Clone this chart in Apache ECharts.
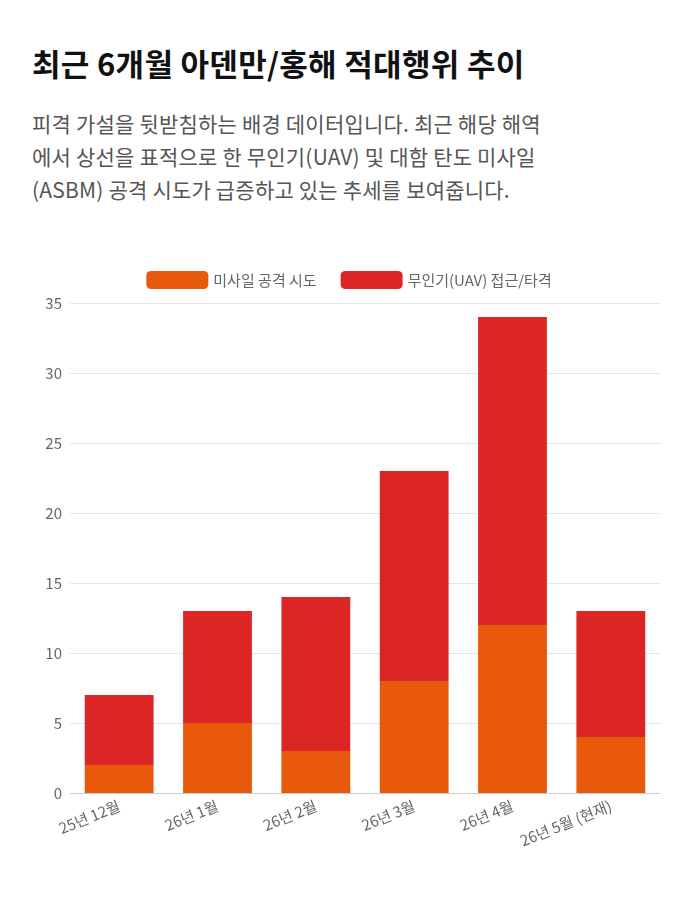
<!DOCTYPE html>
<html><head><meta charset="utf-8">
<script src="https://cdn.jsdelivr.net/npm/echarts@6/dist/echarts.min.js"></script>
<style>
body{margin:0;background:#fff;font-family:"Noto Sans CJK KR","Noto Sans",sans-serif;}
h1{position:absolute;left:32px;top:40px;margin:0;font-size:31px;font-weight:700;color:#111;letter-spacing:0.3px;}
p{position:absolute;left:32px;top:107px;margin:0;width:660px;font-size:21px;line-height:33px;color:#555;letter-spacing:0.2px;white-space:nowrap;}
#chart{position:absolute;left:0;top:250px;width:698px;height:640px;}
</style></head>
<body>
<h1>최근 6개월 아덴만/홍해 적대행위 추이</h1>
<p>피격 가설을 뒷받침하는 배경 데이터입니다. 최근 해당 해역<br>에서 상선을 표적으로 한 무인기(UAV) 및 대함 탄도 미사일<br>(ASBM) 공격 시도가 급증하고 있는 추세를 보여줍니다.</p>
<div id="chart"></div>
<script>
var categories = ['25년 12월', '26년 1월', '26년 2월', '26년 3월', '26년 4월', '26년 5월 (현재)'];
var missile = [2, 5, 3, 8, 12, 4];
var uav = [5, 8, 11, 15, 22, 9];

var chart = echarts.init(document.getElementById('chart'));
chart.setOption({
	animation: false,
	textStyle: {fontFamily: 'Noto Sans CJK KR'},
	legend: {
		top: 16, left: 'center', itemWidth: 62, itemHeight: 18, itemGap: 24,
		textStyle: {color: '#666', fontSize: 15},
		data: ['미사일 공격 시도', '무인기(UAV) 접근/타격']
	},
	grid: {left: 70, right: 38, top: 53, bottom: 97},
	xAxis: {
		type: 'category', data: categories,
		axisLine: {lineStyle: {color: '#ccc'}},
		axisTick: {show: false},
		axisLabel: {color: '#666', fontSize: 15, rotate: 22, interval: 0, margin: 12}
	},
	yAxis: {
		type: 'value', min: 0, max: 35, interval: 5,
		axisLabel: {color: '#666', fontSize: 15},
		splitLine: {lineStyle: {color: '#e6e6e6'}}
	},
	series: [{
		name: '미사일 공격 시도', type: 'bar', stack: 's', data: missile,
		barWidth: '70%', itemStyle: {color: '#e8590c'}
	}, {
		name: '무인기(UAV) 접근/타격', type: 'bar', stack: 's', data: uav,
		barWidth: '70%', itemStyle: {color: '#dc2626'}
	}]
});
</script>
</body></html>
